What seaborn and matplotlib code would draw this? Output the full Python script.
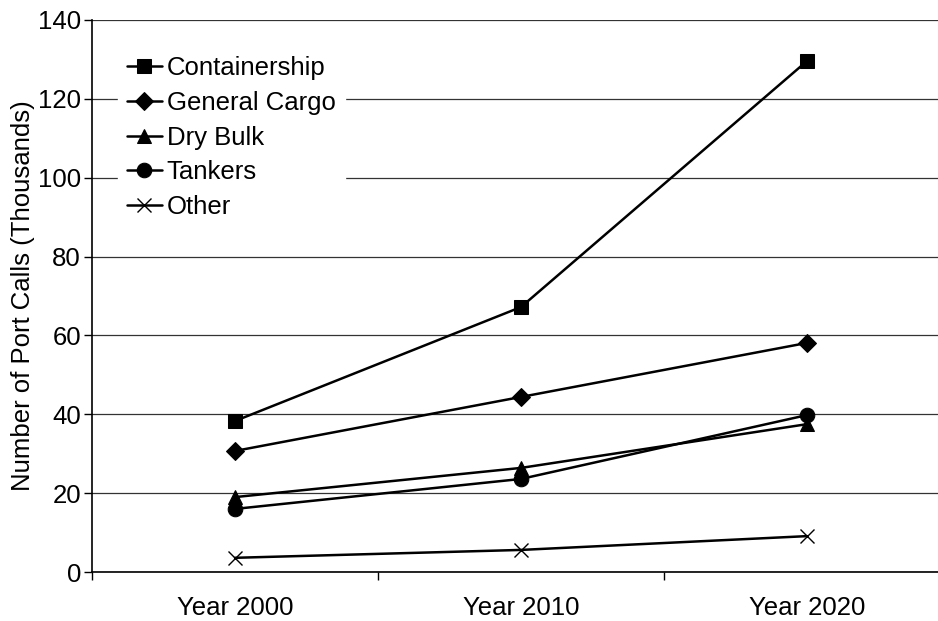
import matplotlib
matplotlib.use("Agg")
import matplotlib.pyplot as plt
import seaborn as sns
import pandas as pd
from matplotlib.ticker import FixedLocator

years = ["Year 2000", "Year 2010", "Year 2020"]
containership = [38.3, 67.2, 129.6]
general_cargo = [30.7, 44.4, 58.1]
dry_bulk = [19.0, 26.4, 37.5]
tankers = [16.0, 23.6, 39.8]
other = [3.6, 5.6, 9.1]

series_names = ["Containership", "General Cargo", "Dry Bulk", "Tankers", "Other"]
series_values = [containership, general_cargo, dry_bulk, tankers, other]
series_markers = ["s", "D", "^", "o", "x"]
series_msize = [10.5, 9.5, 10.5, 10.5, 10.5]

FS = 18.5

sns.set_theme(style="white")
plt.rcParams["font.family"] = ["Liberation Sans", "DejaVu Sans"]
plt.rcParams["text.color"] = "black"
plt.rcParams["axes.labelcolor"] = "black"
plt.rcParams["xtick.color"] = "black"
plt.rcParams["ytick.color"] = "black"

fig = plt.figure(figsize=(9.38, 6.21), dpi=100)
ax = fig.add_axes([0.0981, 0.0789, 0.9019, 0.8889])

for name, vals, mk, ms in zip(series_names, series_values, series_markers, series_msize):
    df = pd.DataFrame({"Year": years, "Calls": vals})
    kw = dict(marker=mk, markersize=ms, color="black", linewidth=1.8,
              markeredgecolor="black", label=name)
    if mk == "x":
        kw["markeredgewidth"] = 1.0
    sns.lineplot(data=df, x="Year", y="Calls", ax=ax, **kw)

ax.set_ylim(0, 140)
ax.set_xlim(-0.5, 2.458)
ax.set_yticks(range(0, 141, 20))
ax.yaxis.grid(True, color="#333333", linewidth=0.9)
ax.xaxis.grid(False)
ax.set_axisbelow(True)

ax.set_xticks([0, 1, 2])
ax.set_xticklabels(years)
ax.xaxis.set_minor_locator(FixedLocator([-0.5, 0.5, 1.5]))
ax.tick_params(axis="x", which="major", length=0, pad=17, labelsize=FS,
               labelcolor="black")
ax.tick_params(axis="x", which="minor", length=6, width=1, color="black",
               direction="out", bottom=True)
ax.tick_params(axis="y", which="major", length=6, width=1, color="black",
               direction="out", left=True, labelsize=FS, pad=2,
               labelcolor="black")

for s in ["top", "right"]:
    ax.spines[s].set_visible(False)
for s in ["left", "bottom"]:
    ax.spines[s].set_color("black")
    ax.spines[s].set_linewidth(1.2)

ax.set_xlabel("")
ax.set_ylabel("Number of Port Calls (Thousands)", fontsize=FS, labelpad=2,
              color="black")

handles, labels = ax.get_legend_handles_labels()
leg = ax.legend(handles, labels, loc="upper left",
                bbox_to_anchor=(0.0307, 0.951), frameon=True,
                fontsize=FS, handlelength=1.35, handletextpad=0.2,
                labelspacing=0.42, borderpad=0.35, borderaxespad=0.0,
                labelcolor="black")
leg.get_frame().set_facecolor("white")
leg.get_frame().set_edgecolor("white")
leg.get_frame().set_alpha(1.0)
leg.get_frame().set_boxstyle("square", pad=0.0)

fig.savefig("out.png", dpi=100, facecolor="white")
